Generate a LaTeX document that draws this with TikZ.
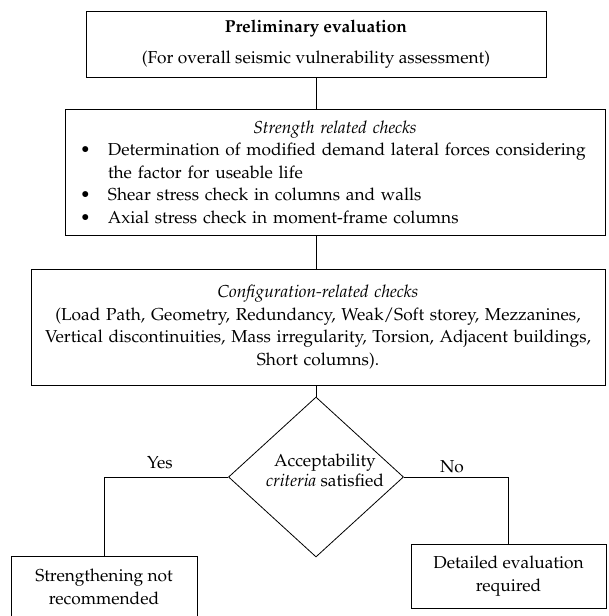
\documentclass[tikz,border=0pt]{standalone}
\usepackage[T1]{fontenc}
\usepackage{mathpazo}
\usepackage{amsmath}
\usepackage{amssymb}
\usetikzlibrary{shapes.geometric,positioning}

\newcommand{\chkitem}[1]{\par\noindent\hangindent=32pt\hangafter=1\makebox[32pt][l]{\hspace{4pt}\textbullet}#1}

\begin{document}
\begin{tikzpicture}[x=1pt,y=-1pt]
            \tikzstyle{box} = [rectangle, draw=black, fill=white, line width=0.8pt, inner sep=0pt, align=center, font=\fontsize{17.3}{22.5}\selectfont]
            \tikzstyle{decision} = [diamond, draw=black, fill=white, line width=0.8pt, inner sep=0pt, aspect=1.09, minimum width=175pt, minimum height=160pt]
            \tikzstyle{txt} = [inner sep=0pt, align=center, font=\fontsize{17.3}{20}\selectfont]
            \tikzstyle{line} = [line width=0.8pt]

            \clip (0,0) rectangle (608,616);

            % Nodes
            \node (prelim) [box, minimum width=460pt, minimum height=66pt] at (316,44) {\textbf{Preliminary evaluation}\\[8pt](For overall seismic vulnerability assessment)};
            \node (strength) [box, minimum width=540pt, minimum height=126pt, inner xsep=11pt, text width=518pt, align=left] at (335,172) {\hyphenpenalty=10000 {\centering\itshape Strength related checks\par}
              \chkitem{Determination of modified demand lateral forces considering\newline the factor for useable life}
              \chkitem{Shear stress check in columns and walls}
              \chkitem{Axial stress check in moment-frame columns}};
            \node (config) [box, minimum width=574pt, minimum height=116pt, text width=560pt] at (318,327) {\textit{Configuration-related checks}\\(Load Path, Geometry, Redundancy, Weak/Soft storey, Mezzanines,\\Vertical discontinuities, Mass irregularity, Torsion, Adjacent buildings,\\Short columns).\par\vspace*{18pt}};
            \node (accept) [decision] at (316,477) {};
            \node (accepttxt) [txt] at (325,470) {Acceptability\\\textit{criteria} satisfied};
            \node (noreco) [box, minimum width=186pt, minimum height=62pt] at (104,587) {Strengthening not\\recommended};
            \node (detailed) [box, minimum width=195pt, minimum height=64pt] at (508.5,576) {Detailed evaluation\\required};
            \node (yes) [txt] at (160,463) {Yes};
            \node (no) [txt] at (452,467) {No};

            % Lines
            \draw [line] (accept.north |- prelim.south) -- (accept.north |- strength.north);
            \draw [line] (accept.north |- strength.south) -- (accept.north |- config.north);
            \draw [line] (config.south -| accept.north) -- (accept.north);
            \draw [line] (accept.west) -| (noreco.north);
            \draw [line] (accept.east) -| (detailed.north);
        \end{tikzpicture}
\end{document}
